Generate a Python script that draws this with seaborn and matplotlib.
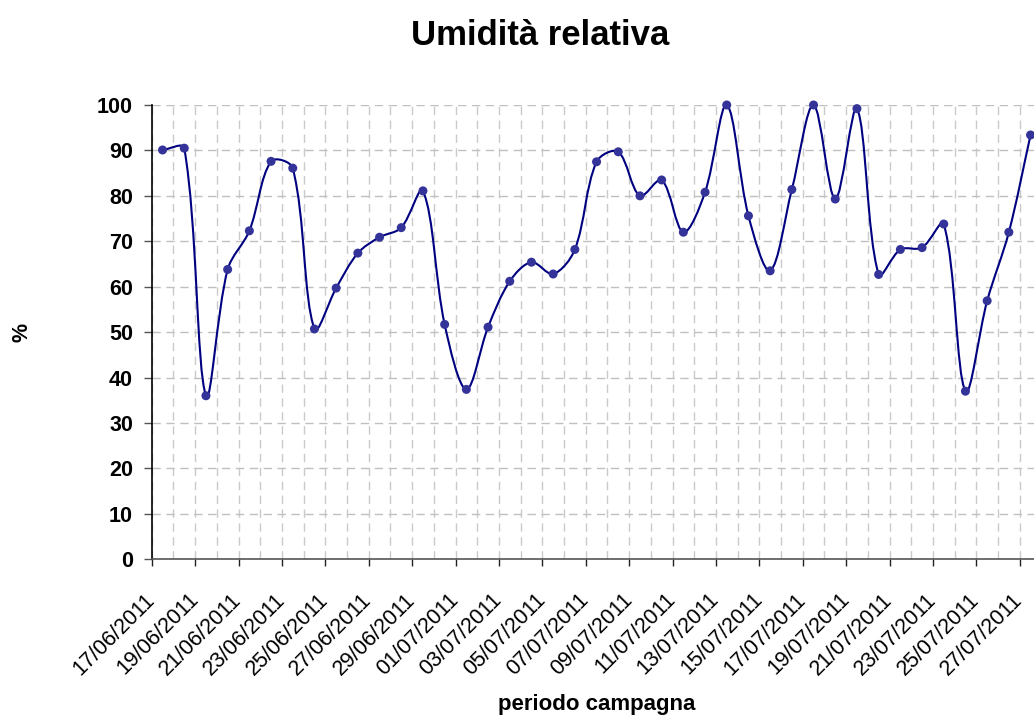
import matplotlib
matplotlib.use("Agg")
import numpy as np
import pandas as pd
import matplotlib.pyplot as plt
import matplotlib.dates as mdates
from matplotlib.path import Path
from matplotlib.patches import PathPatch
from matplotlib.ticker import FixedLocator
import seaborn as sns

# ---- data ----
start_day = "2011-06-17 12:00"
dates = pd.date_range(start_day, periods=41, freq="D")
umidita = [90.1, 90.5, 36.0, 63.8, 72.3, 87.6, 86.1, 50.7, 59.7, 67.4,
           70.9, 73.0, 81.1, 51.7, 37.4, 51.1, 61.2, 65.4, 62.8, 68.2,
           87.5, 89.7, 80.0, 83.5, 72.0, 80.8, 100.0, 75.6, 63.5, 81.4,
           100.0, 79.3, 99.2, 62.7, 68.2, 68.6, 73.8, 37.0, 56.9, 72.0,
           93.4]
tick_dates = pd.date_range("2011-06-17", "2011-07-27", freq="2D")
y_ticks = list(range(0, 101, 10))

title = "Umidità relativa"
xlabel = "periodo campagna"
ylabel = "%"

df = pd.DataFrame({"data": dates, "umidita": umidita})

sns.set_theme(style="white")
plt.rcParams["font.family"] = ["Liberation Sans", "DejaVu Sans"]
plt.rcParams["text.color"] = "black"
plt.rcParams["axes.labelcolor"] = "black"

fig = plt.figure(figsize=(10.34, 7.2), dpi=100)
ax = fig.add_axes([151.7 / 1034, 1 - 559.3 / 720, (1041.4 - 151.7) / 1034, (559.3 - 105) / 720])

ax.set_xlim(mdates.date2num(pd.Timestamp("2011-06-17")),
            mdates.date2num(pd.Timestamp("2011-07-28")))
ax.set_ylim(0, 100)

# smooth (Bezier) line through the points, Excel-like smoothing
xs = mdates.date2num(df["data"])
ys = np.asarray(df["umidita"], dtype=float)
P = np.column_stack([xs, ys])
D = ax.transData.transform(P)
n = len(P)

def dist(a, b):
    return float(np.hypot(*(D[a] - D[b])))

verts = [tuple(P[0])]
codes = [Path.MOVETO]
for i in range(n - 1):
    i0, i1, i2, i3 = max(i - 1, 0), i, i + 1, min(i + 2, n - 1)
    d01, d12, d23 = dist(i0, i1), dist(i1, i2), dist(i2, i3)
    r1 = d12 / (d01 + d12) if d01 + d12 > 0 else 0.5
    r2 = d12 / (d12 + d23) if d12 + d23 > 0 else 0.5
    c1 = P[i1] + (P[i2] - P[i0]) * r1 / 3.0
    c2 = P[i2] - (P[i3] - P[i1]) * r2 / 3.0
    verts += [tuple(c1), tuple(c2), tuple(P[i2])]
    codes += [Path.CURVE4] * 3
patch = PathPatch(Path(verts, codes), facecolor="none", edgecolor="#000080",
                  lw=1.5, zorder=3, clip_on=False)
ax.add_patch(patch)

sns.scatterplot(data=df, x="data", y="umidita", color="#333399", s=42,
                edgecolor="none", zorder=4, clip_on=False, ax=ax, legend=False)

ax.set_xlim(mdates.date2num(pd.Timestamp("2011-06-17")),
            mdates.date2num(pd.Timestamp("2011-07-28")))
ax.set_ylim(0, 100)

ax.xaxis.set_major_locator(FixedLocator(mdates.date2num(tick_dates)))
ax.xaxis.set_minor_locator(mdates.DayLocator())
ax.xaxis.set_major_formatter(mdates.DateFormatter("%d/%m/%Y"))
ax.yaxis.set_major_locator(FixedLocator(y_ticks))

ax.grid(which="major", axis="y", ls=(0, (6, 4)), color="#c0c0c0", lw=1)
ax.grid(which="both", axis="x", ls=(0, (6, 4)), color="#cacaca", lw=1)
ax.set_axisbelow(True)

ax.tick_params(axis="x", which="major", bottom=True, length=4.8, width=1,
               color="#222222", direction="out", pad=22, labelsize=15.5,
               labelcolor="black")
ax.tick_params(axis="x", which="minor", bottom=False, length=0)
ax.tick_params(axis="y", left=True, length=5.5, width=1, color="#555555",
               direction="out", pad=8, labelsize=15.5, labelcolor="black")
for lab in ax.get_yticklabels():
    lab.set_fontweight("bold")
plt.setp(ax.get_xticklabels(), rotation=45, ha="right", va="center",
         rotation_mode="anchor")

for s in ["top", "right"]:
    ax.spines[s].set_visible(False)
ax.spines["left"].set_color("black")
ax.spines["left"].set_linewidth(1.2)
ax.spines["bottom"].set_color("#555555")
ax.spines["bottom"].set_linewidth(1.2)

ax.set_xlabel("")
ax.set_ylabel("")
fig.text(540 / 1034, 1 - 45 / 720, title, ha="center", va="baseline",
         fontsize=25, fontweight="bold")
fig.text(597 / 1034, 1 - 710 / 720, xlabel, ha="center", va="baseline",
         fontsize=16, fontweight="bold")
fig.text(22 / 1034, 1 - 332 / 720, ylabel, ha="center", va="center",
         fontsize=15.5, fontweight="bold", rotation=90)

fig.savefig("out.png", dpi=100)
